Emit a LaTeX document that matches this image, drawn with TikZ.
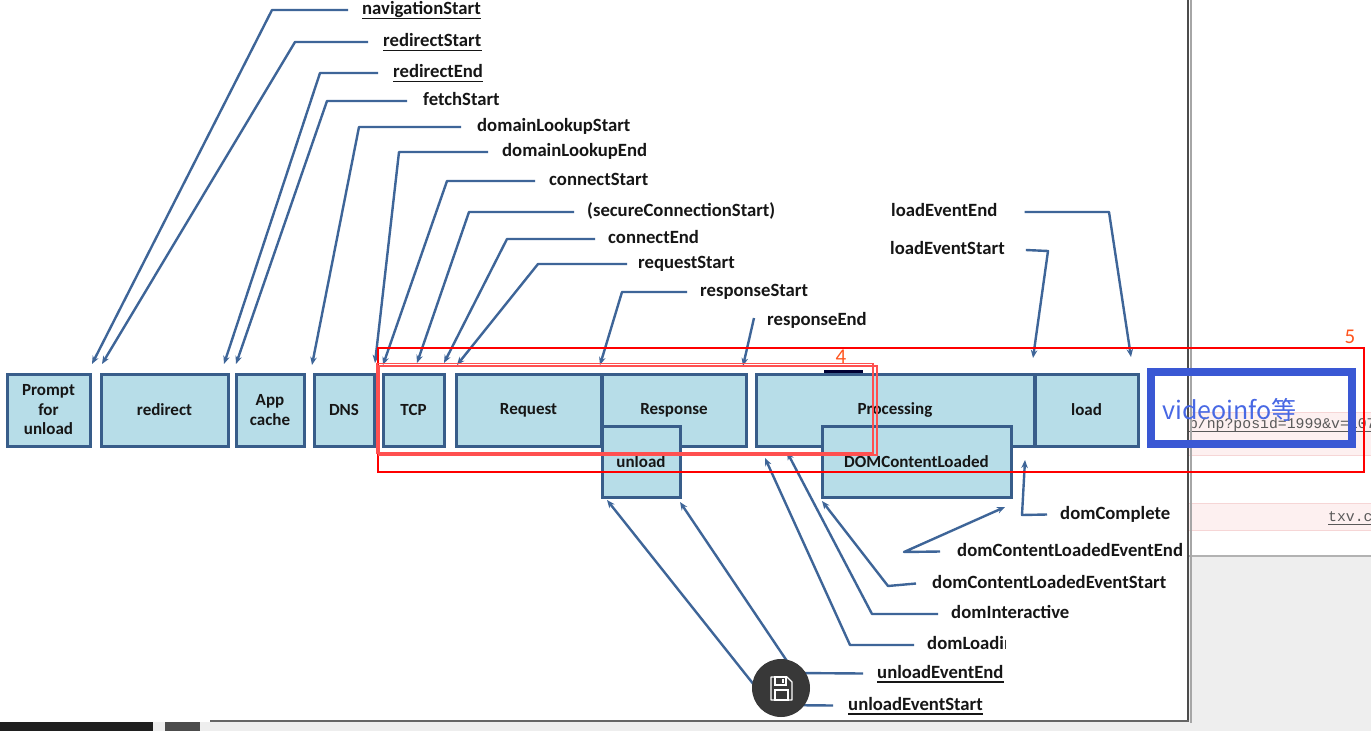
\documentclass[tikz,border=0pt]{standalone}
\usepackage{fontspec}
\setmainfont{Carlito}
\newfontfamily\cjk{Noto Sans CJK SC}
\newfontfamily\monof{Liberation Mono}
\usetikzlibrary{arrows.meta}
\definecolor{boxfill}{RGB}{183,221,232}
\definecolor{boxline}{RGB}{56,93,138}
\definecolor{connc}{RGB}{62,101,152}
\definecolor{redbox}{RGB}{255,0,0}
\definecolor{redlite}{RGB}{255,80,80}
\definecolor{numc}{RGB}{255,85,30}
\definecolor{vbox}{RGB}{58,88,212}
\definecolor{vtext}{RGB}{72,104,228}
\definecolor{pinkrow}{RGB}{253,240,240}
\definecolor{pinkline}{RGB}{246,214,214}
\definecolor{txt}{RGB}{22,22,22}
\definecolor{graybg}{RGB}{238,238,238}
\begin{document}
\begin{tikzpicture}[x=1pt,y=-1pt,
  stagebox/.style={draw=boxline, fill=boxfill, line width=3pt, anchor=north west, inner sep=0pt, align=center,
    font=\fontsize{17}{19.5}\selectfont\bfseries, text=txt},
  lbl/.style={anchor=mid west, inner sep=0pt, font=\fontsize{18.7}{21}\selectfont\bfseries, text=txt},
  conn/.style={draw=connc, line width=2.4pt, -{Stealth[length=8pt,width=6.5pt]}, line join=round},
  ul/.style={draw=txt, line width=1.3pt},
  redframe/.style={draw=redbox, line width=2pt},
  redthin/.style={draw=redlite, line width=1.1pt},
  numlbl/.style={inner sep=0pt, text=numc, font=\fontsize{21}{21}\selectfont},
  monotxt/.style={anchor=base west, inner sep=0pt, text=black!65, font=\monof\fontsize{14.8}{15}\selectfont}
]
\useasboundingbox (0,0) rectangle (1371,731);
% ---------- background page (right side) ----------
\fill[white] (0,0) rectangle (1371,731);
\fill[pinkrow] (1188,412) rectangle (1371,455);
\draw[pinkline, line width=1pt] (1188,412) -- (1371,412) (1188,455) -- (1371,455);
\fill[pinkrow] (1188,503) rectangle (1371,530);
\draw[pinkline, line width=1pt] (1188,503) -- (1371,503) (1188,530) -- (1371,530);
\fill[graybg] (1188,556) rectangle (1371,731);
\draw[black!30, line width=1.2pt] (1188,556) -- (1371,556);
\fill[graybg] (0,722) rectangle (1371,731);
\node[monotxt] (url1) at (1180,428) {sp/np?posid=1999\&v=107};
\draw[black!65, line width=0.9pt] (1188,431) -- (1371,431);
\node[monotxt] (url2) at (1328,521) {txv.c};
\draw[black!65, line width=0.9pt] (1328,524) -- (1371,524);
% ---------- popup window ----------
\fill[white] (0,0) rectangle (1187,721);
\draw[black!35, line width=2pt] (1190.5,0) -- (1190.5,723);
\draw[black!70, line width=2.4pt] (1188,0) -- (1188,722);
\draw[black!60, line width=2pt] (210,721) -- (1189,721);
\fill[black!88] (0,722) rectangle (153,731);
\fill[black!70] (165,722) rectangle (200,731);
% ---------- stage boxes ----------
\node[stagebox, minimum width=83pt, minimum height=72pt] (prompt) at (5.5,372.5) {Prompt\\for\\unload};
\node[stagebox, minimum width=127pt, minimum height=72pt] (redirect) at (99.5,372.5) {redirect};
\node[stagebox, minimum width=68pt, minimum height=72pt] (appcache) at (234.5,372.5) {App\\cache};
\node[stagebox, minimum width=60pt, minimum height=72pt] (dns) at (312.5,372.5) {DNS};
\node[stagebox, minimum width=61pt, minimum height=72pt] (tcp) at (381.5,372.5) {TCP};
\node[stagebox, minimum width=145pt, minimum height=72pt] (request) at (454.5,372.5) {Request};
\node[stagebox, minimum width=144pt, minimum height=72pt] (response) at (600.5,372.5) {Response};
\node[stagebox, minimum width=78pt, minimum height=71pt] (unload) at (600.5,424.5) {unload};
\node[stagebox, minimum width=278pt, minimum height=72pt] (processing) at (754.5,372.5) {Processing};
\node[stagebox, minimum width=103pt, minimum height=72pt] (load) at (1033.5,372.5) {load};
\node[stagebox, minimum width=189pt, minimum height=71pt] (domcl) at (820.5,424.5) {DOMContentLoaded};
\draw[black!80!blue, line width=3.5pt] (824,371.5) -- (863,371.5);
% ---------- labels ----------
\node[lbl] (navS) at (362,12.5) {navigationStart};
\node[lbl] (redS) at (383,44.5) {redirectStart};
\node[lbl] (redE) at (393,75.5) {redirectEnd};
\node[lbl] (fetchS) at (423,103.5) {fetchStart};
\node[lbl] (dlS) at (477,129.5) {domainLookupStart};
\node[lbl] (dlE) at (502,154.5) {domainLookupEnd};
\node[lbl] (cS) at (549,183.5) {connectStart};
\node[lbl] (sCS) at (587,214.5) {(secureConnectionStart)};
\node[lbl] (cE) at (608,241.5) {connectEnd};
\node[lbl] (rqS) at (638,266.5) {requestStart};
\node[lbl] (rsS) at (700,294.5) {responseStart};
\node[lbl] (rsE) at (767,323) {responseEnd};
\node[lbl] (lEE) at (891,214.5) {loadEventEnd};
\node[lbl] (lES) at (890,252.5) {loadEventStart};
\node[lbl] (dC) at (1060,517) {domComplete};
\node[lbl] (dCLEE) at (957,554) {domContentLoadedEventEnd};
\node[lbl] (dCLES) at (932,586) {domContentLoadedEventStart};
\node[lbl] (dI) at (951,616.5) {domInteractive};
\node[lbl] (dL) at (927,647.5) {domLoading};
\fill[white] (1006,628) rectangle (1090,662);
\node[lbl] (uEE) at (877,676) {unloadEventEnd};
\node[lbl] (uES) at (848,708) {unloadEventStart};
\foreach \n in {navS,redS,redE,uEE,uES}{
  \draw[ul] ([yshift=-3.6pt]\n.base west) -- ([yshift=-3.6pt]\n.base east);
}
% ---------- connector points ----------
\coordinate (navS-c) at (272,10);   \coordinate (navS-t) at (92,364);
\coordinate (redS-c) at (295,42);   \coordinate (redS-t) at (102,364);
\coordinate (redE-c) at (320,73);   \coordinate (redE-t) at (224,364);
\coordinate (fetchS-c) at (327,101);\coordinate (fetchS-t) at (236,364);
\coordinate (dlS-c) at (359,127);   \coordinate (dlS-t) at (312,365);
\coordinate (dlE-c) at (399,152);   \coordinate (dlE-t) at (375,363);
\coordinate (cS-c) at (447,181);    \coordinate (cS-t) at (383,365);
\coordinate (sCS-c) at (469,212);   \coordinate (sCS-t) at (417,363);
\coordinate (cE-c) at (507,239);    \coordinate (cE-t) at (444,363);
\coordinate (rqS-c) at (538,264);   \coordinate (rqS-t) at (457,365);
\coordinate (rsS-c) at (622,292);   \coordinate (rsS-t) at (600,365);
\coordinate (rsE-s) at (754,318);   \coordinate (rsE-t) at (743,366);
\coordinate (lEE-c) at (1109,212);  \coordinate (lEE-t) at (1131,357);
\coordinate (lES-c) at (1048,251);  \coordinate (lES-t) at (1033,358);
\coordinate (dC-c) at (1022,515);   \coordinate (dC-t) at (1025,460);
\coordinate (dCLEE-c) at (904,552); \coordinate (dCLEE-t) at (1005,507);
\coordinate (dCLES-c) at (888,586); \coordinate (dCLES-t) at (822,501);
\coordinate (dI-c) at (872,614);    \coordinate (dI-t) at (787,452);
\coordinate (dL-c) at (850,645);    \coordinate (dL-t) at (765,458);
\coordinate (uEE-c) at (795,673);   \coordinate (uEE-t) at (680,502);
\coordinate (uES-c) at (770,705);   \coordinate (uES-t) at (607,500);
% ---------- connectors ----------
\foreach \n/\g in {navS/14,redS/15,redE/15,fetchS/16,dlS/16,dlE/14,cS/14,sCS/13,cE/13,rqS/11,rsS/13,
                   dC/13,dCLEE/17,dCLES/16,dI/13,dL/13,uEE/14,uES/15}{
  \draw[conn] ([xshift=-\g pt, yshift=2.5pt]\n.mid west) -- (\n-c) -- (\n-t);
}
\draw[conn] (rsE-s) -- (rsE-t);
\draw[conn] ([xshift=27pt, yshift=2.5pt]lEE.mid east) -- (lEE-c) -- (lEE-t);
\draw[conn] ([xshift=21pt, yshift=2.5pt]lES.mid east) -- (lES-c) -- (lES-t);
% ---------- annotation frames ----------
\draw[redframe] (378,348) rectangle (1364,472);
\draw[redthin] (377,363.5) rectangle (873,453);
\draw[redthin] (379,366) rectangle (877,455);
\node[numlbl] (n4) at (841,357) {4};
\node[numlbl] (n5) at (1350,337) {5};
\draw[vbox, line width=8pt] (1151,372) rectangle (1352,444);
\node[anchor=base west, inner sep=0pt, text=vtext, font=\cjk\fontsize{25}{25}\selectfont] (vinfo) at (1162,419) {videoinfo等};
% ---------- save button ----------
\node[circle, fill=black!78, minimum size=58pt, inner sep=0pt] (save) at (781,688) {};
\draw[white, line width=1.3pt, line join=round] (771,677) -- (787,677) -- (792,682) -- (792,700) -- (771,700) -- cycle;
\draw[white, line width=1.1pt] (775,677) rectangle (786,685);
\draw[white, line width=1.1pt] (775,690) rectangle (788,700);
\draw[white, line width=1.1pt] (783,679) -- (783,683);
\end{tikzpicture}
\end{document}
